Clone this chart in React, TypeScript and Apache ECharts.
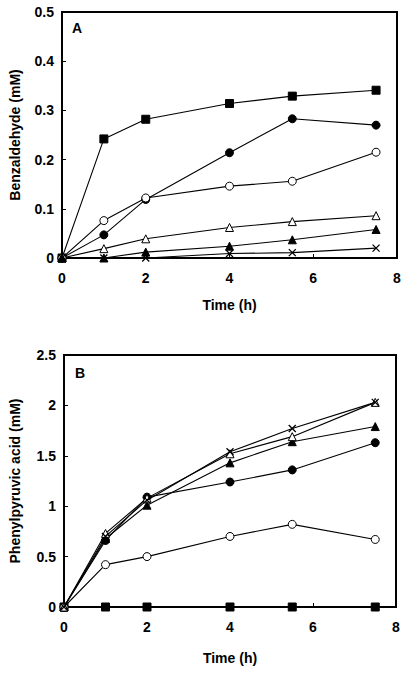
import React, { useEffect, useRef } from "react";
import * as echarts from "echarts";

const times = [0, 1, 2, 4, 5.5, 7.5];

// Panel A: Benzaldehyde (mM)
const aSquare = [0, 0.242, 0.282, 0.314, 0.329, 0.341];
const aFilledCircle = [0, 0.047, 0.119, 0.214, 0.283, 0.270];
const aOpenCircle = [0, 0.076, 0.122, 0.146, 0.156, 0.215];
const aOpenTriangle = [0, 0.019, 0.039, 0.062, 0.074, 0.086];
const aFilledTriangle = [0, 0, 0.012, 0.024, 0.037, 0.058];
const aCross = [0, 0, 0, 0.009, 0.011, 0.020];

// Panel B: Phenylpyruvic acid (mM)
const bSquare = [0, 0, 0, 0, 0, 0];
const bFilledCircle = [0, 0.66, 1.09, 1.24, 1.36, 1.63];
const bOpenCircle = [0, 0.42, 0.50, 0.70, 0.82, 0.67];
const bOpenTriangle = [0, 0.73, 1.08, 1.52, 1.69, 2.03];
const bFilledTriangle = [0, 0.68, 1.01, 1.43, 1.64, 1.79];
const bCross = [0, 0.70, 1.06, 1.54, 1.77, 2.03];

const xTicks = [0, 2, 4, 6, 8];
const aYTicks = [0, 0.1, 0.2, 0.3, 0.4, 0.5];
const bYTicks = [0, 0.5, 1, 1.5, 2, 2.5];

const CROSS = "path://M0,0L10,10M10,0L0,10";
const FONT = "Liberation Sans, Arial, sans-serif";

type Kind = "square" | "fcircle" | "ocircle" | "otri" | "ftri" | "cross";

function mk(name: string, vals: number[], kind: Kind, idx: number, z: number) {
  let symbol = "circle";
  let size = 8;
  let itemStyle: any = { color: "#000", borderColor: "#000", borderWidth: 1 };
  if (kind === "square") { symbol = "rect"; size = 8; }
  if (kind === "fcircle") { symbol = "circle"; size = 8; }
  if (kind === "ocircle") { symbol = "circle"; size = 8; itemStyle = { color: "#fff", borderColor: "#000", borderWidth: 1 }; }
  if (kind === "otri") { symbol = "triangle"; size = 8; itemStyle = { color: "#fff", borderColor: "#000", borderWidth: 1 }; }
  if (kind === "ftri") { symbol = "triangle"; size = 8; }
  if (kind === "cross") { symbol = CROSS; size = 7; itemStyle = { color: "none", borderColor: "#000", borderWidth: 1.3 }; }
  return {
    name,
    type: "line",
    xAxisIndex: idx,
    yAxisIndex: idx,
    data: times.map((t, i) => [t, vals[i]]),
    symbol,
    symbolSize: size,
    showAllSymbol: true,
    lineStyle: { color: "#000", width: 1.1 },
    itemStyle,
    z,
    clip: false,
  };
}

export default function App() {
  const ref = useRef<HTMLDivElement>(null);
  useEffect(() => {
    document.body.style.margin = "0";
    const chart = echarts.init(ref.current!, null, { renderer: "svg" });
    const axisLabel = { color: "#000", fontFamily: FONT, fontWeight: "bold", fontSize: 14 };
    const nameStyle = { color: "#000", fontFamily: FONT, fontWeight: "bold", fontSize: 14 };
    const mkX = (idx: number) => ({
      type: "value",
      gridIndex: idx,
      min: xTicks[0],
      max: xTicks[xTicks.length - 1],
      interval: 2,
      name: "Time (h)",
      nameLocation: "middle",
      nameGap: idx === 0 ? 40 : 44,
      nameTextStyle: nameStyle,
      axisLine: { lineStyle: { color: "#000", width: 2 } },
      axisTick: { inside: true, length: 4, lineStyle: { color: "#000" } },
      axisLabel: { ...axisLabel, margin: 13 },
      splitLine: { show: false },
    });
    const mkY = (idx: number, ticks: number[], name: string, gap: number) => ({
      type: "value",
      gridIndex: idx,
      min: ticks[0],
      max: ticks[ticks.length - 1],
      interval: ticks[1] - ticks[0],
      name,
      nameLocation: "middle",
      nameGap: gap,
      nameTextStyle: nameStyle,
      axisLine: { lineStyle: { color: "#000", width: 2 } },
      axisTick: { inside: true, length: 4, lineStyle: { color: "#000" } },
      axisLabel: { ...axisLabel, margin: 8 },
      splitLine: { show: false },
    });
    chart.setOption({
      animation: false,
      backgroundColor: "#fff",
      grid: [
        { left: 62, right: 18, top: 12, height: 246, show: true, borderColor: "#000", borderWidth: 2, backgroundColor: "transparent" },
        { left: 64, right: 19, top: 355, height: 252, show: true, borderColor: "#000", borderWidth: 2, backgroundColor: "transparent" },
      ],
      xAxis: [mkX(0), mkX(1)],
      yAxis: [
        mkY(0, aYTicks, "Benzaldehyde (mM)", 40),
        mkY(1, bYTicks, "Phenylpyruvic acid (mM)", 42),
      ],
      graphic: [
        { type: "text", left: 72, top: 21, style: { text: "A", font: `bold 14px ${FONT}`, fill: "#000" } },
        { type: "text", left: 75, top: 366, style: { text: "B", font: `bold 14px ${FONT}`, fill: "#000" } },
      ],
      series: [
        mk("A square", aSquare, "square", 0, 5),
        mk("A filled circle", aFilledCircle, "fcircle", 0, 5),
        mk("A open circle", aOpenCircle, "ocircle", 0, 5),
        mk("A open triangle", aOpenTriangle, "otri", 0, 5),
        mk("A filled triangle", aFilledTriangle, "ftri", 0, 5),
        mk("A cross", aCross, "cross", 0, 5),
        mk("B square", bSquare, "square", 1, 5),
        mk("B filled circle", bFilledCircle, "fcircle", 1, 5),
        mk("B open circle", bOpenCircle, "ocircle", 1, 5),
        mk("B filled triangle", bFilledTriangle, "ftri", 1, 5),
        mk("B open triangle", bOpenTriangle, "otri", 1, 6),
        mk("B cross", bCross, "cross", 1, 7),
      ],
    });
    return () => chart.dispose();
  }, []);
  return <div ref={ref} style={{ width: 415, height: 673 }} />;
}
